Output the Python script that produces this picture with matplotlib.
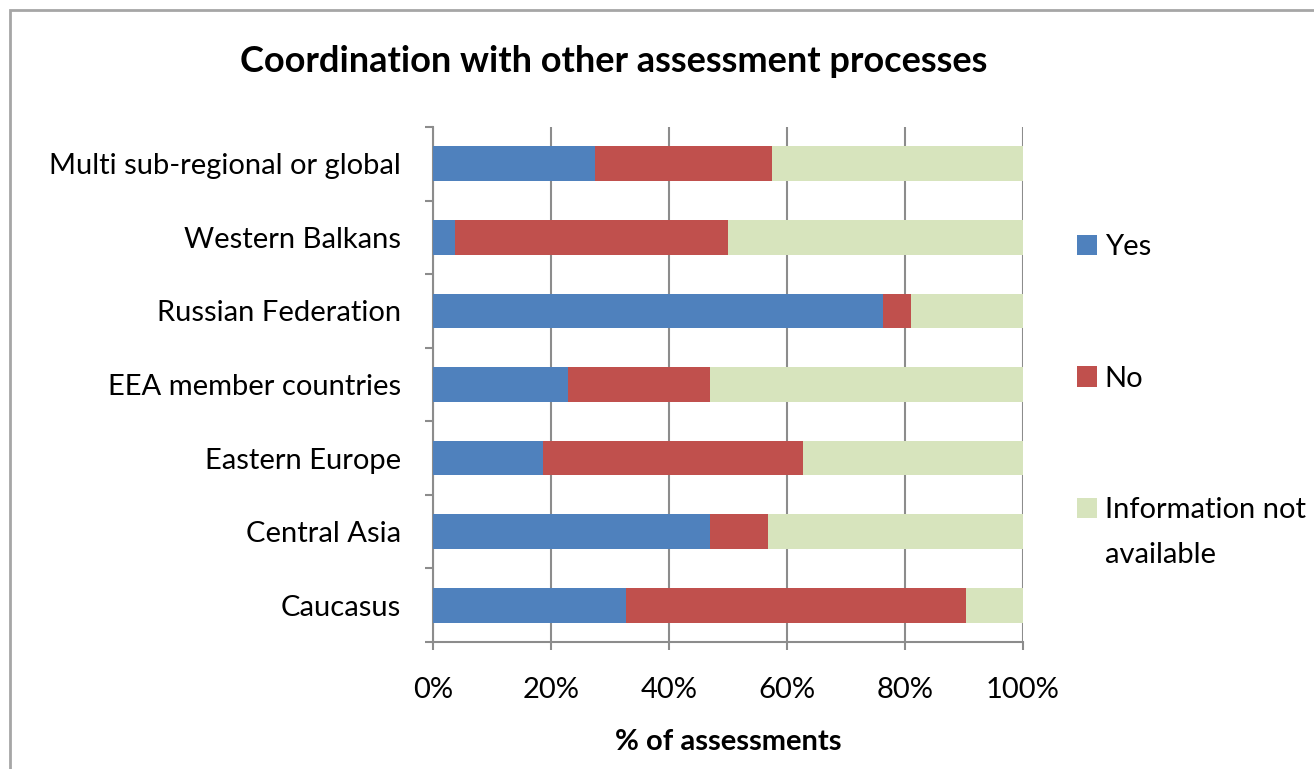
import matplotlib.pyplot as plt
import numpy as np
from matplotlib.patches import Rectangle, Patch

# data (bottom to top as drawn)
regions = ["Caucasus", "Central Asia", "Eastern Europe", "EEA member countries",
           "Russian Federation", "Western Balkans", "Multi sub-regional or global"]
yes = [32.7, 46.9, 18.7, 22.8, 76.2, 3.8, 27.4]
no = [57.7, 9.8, 44.0, 24.1, 4.9, 46.2, 30.0]
na = [100 - a - b for a, b in zip(yes, no)]
series_names = ["Yes", "No", "Information not available"]
colors = ["#4F81BD", "#C0504D", "#D7E4BD"]

plt.rcParams['font.family'] = ['Lato', 'DejaVu Sans']
W, H = 1314, 769
fs = 21
fig = plt.figure(figsize=(W / 100, H / 100), dpi=100, facecolor="white")

# outer chart border (clipped at right/bottom like the screenshot)
fig.patches.append(Rectangle((10 / W, -0.1), 1.2, 1 - 10 / H + 0.1, transform=fig.transFigure,
                             fill=False, edgecolor="#a6a6a6", linewidth=2))

ax = fig.add_axes([433 / W, 1 - 642 / H, 590 / W, 515 / H])
y = np.arange(len(regions))
h = 0.47
ax.barh(y, yes, height=h, color=colors[0], zorder=3)
ax.barh(y, no, left=yes, height=h, color=colors[1], zorder=3)
ax.barh(y, na, left=np.array(yes) + np.array(no), height=h, color=colors[2], zorder=3)

ax.set_xlim(0, 100)
ax.set_ylim(-0.5, len(regions) - 0.5)
ax.set_xticks(np.arange(0, 101, 20))
ax.set_xticklabels([f"{v}%" for v in range(0, 101, 20)])
ax.set_yticks(y)
ax.set_yticklabels(regions)
ax.set_yticks(np.arange(-0.5, len(regions), 1), minor=True)
ax.tick_params(axis="y", which="major", length=0, pad=23, labelsize=fs)
ax.tick_params(axis="y", which="minor", length=6, width=1.5, color="#8c8c8c", direction="out")
ax.tick_params(axis="x", length=6, width=1.5, color="#8c8c8c", pad=19, labelsize=fs)
ax.grid(axis="x", color="#8c8c8c", linewidth=1.5, zorder=0)
for s in ["top", "right"]:
    ax.spines[s].set_visible(False)
for s in ["left", "bottom"]:
    ax.spines[s].set_color("#8c8c8c")
    ax.spines[s].set_linewidth(1.5)
ax.set_xlabel("% of assessments", fontsize=fs, fontweight="bold", labelpad=19)

fig.text(614 / W, 1 - 62 / H, "Coordination with other assessment processes",
         ha="center", va="center", fontsize=26, fontweight="bold")

handles = [Patch(facecolor=c, edgecolor="none") for c in colors]
labels = ["Yes", "No", "Information not"]
leg = fig.legend(handles, labels, loc="upper left", bbox_to_anchor=(1077 / W, 1 - 234 / H),
                 frameon=False, fontsize=fs, labelspacing=3.62, handlelength=0.7,
                 handleheight=0.7, handletextpad=0.25, borderpad=0, borderaxespad=0)
fig.canvas.draw()
bb = leg.get_texts()[2].get_window_extent().transformed(fig.transFigure.inverted())
fig.text(bb.x0, bb.y0 - 0.024, "available", ha="left", va="top", fontsize=fs)

fig.savefig("out.png", dpi=100, facecolor="white")
